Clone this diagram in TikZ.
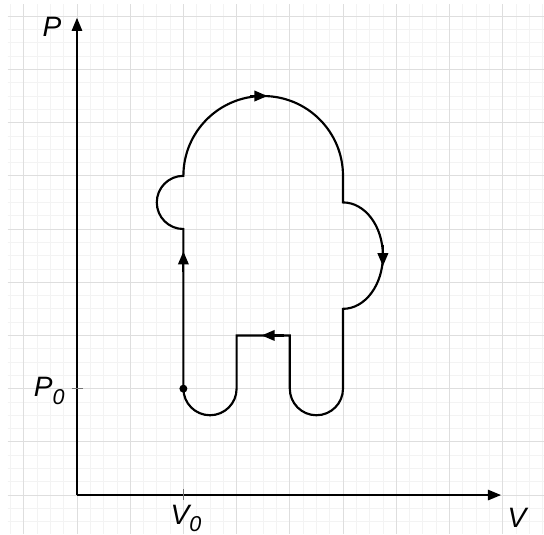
\documentclass[tikz,border=0pt]{standalone}
\usepackage{fontspec}
\setsansfont{Liberation Sans}
\usetikzlibrary{arrows.meta}

\newcommand{\lowsub}[1]{\raisebox{-4pt}{\fontsize{11.5}{12}\selectfont #1}}

\begin{document}
\begin{tikzpicture}[
  >={Triangle[length=7pt,width=5.6pt]},
  font=\sffamily\itshape\fontsize{15}{17}\selectfont,
  axis/.style={->, line width=.75pt, draw=black},
  cycleline/.style={line width=1.15pt, draw=black},
  tick/.style={line width=.6pt, draw=black!55},
  axislabel/.style={inner sep=0pt}
]

\definecolor{gridmajor}{RGB}{222,222,222}
\definecolor{gridminor}{RGB}{243,243,243}

% page and grid paper
\useasboundingbox (-1.447,-0.733) rectangle (8.778,9.305);
\fill[white] (-1.447,-0.733) rectangle (8.778,9.305);
\draw[gridminor,line width=.4pt,step=0.25] (-1.3,-0.733) grid (8.778,9.23);
\draw[gridmajor,line width=.5pt,step=1] (-1.3,-0.733) grid (8.778,9.23);

% axes
\coordinate (O) at (0,0);
\draw[axis] (O) -- (0,8.97);
\draw[axis] (O) -- (7.97,0);
\node[axislabel] (labP) at (-0.47,8.8) {P};
\node[axislabel] (labV) at (8.27,-0.42) {V};

% reference state
\draw[tick] (-0.1,2) -- (0.12,2);
\draw[tick] (2,0.11) -- (2,-0.09);
\node[axislabel] (labP0) at (-0.52,1.96) {P\lowsub{0}};
\node[axislabel] (labV0) at (2.05,-0.44) {V\lowsub{0}};

% closed cycle
\coordinate (start) at (2,2);
\draw[cycleline] (start) -- (2,5)
  arc[start angle=270,end angle=90,radius=0.5]
  arc[start angle=180,end angle=0,radius=1.5]
  -- (5,5.5)
  arc[start angle=90,end angle=-90,x radius=0.75,y radius=1]
  -- (5,2)
  arc[start angle=0,end angle=-180,radius=0.5]
  -- (4,3) -- (3,3) -- (3,2)
  arc[start angle=0,end angle=-180,radius=0.5] -- cycle;
\fill (start) circle (0.075);

% direction marks
\draw[cycleline,->] (2,4.2) -- (2,4.58);
\draw[cycleline,->] (3.25,7.5) -- (3.58,7.5);
\draw[cycleline,->] (5.75,4.7) -- (5.75,4.3);
\draw[cycleline,->] (3.9,3) -- (3.47,3);

\end{tikzpicture}
\end{document}
